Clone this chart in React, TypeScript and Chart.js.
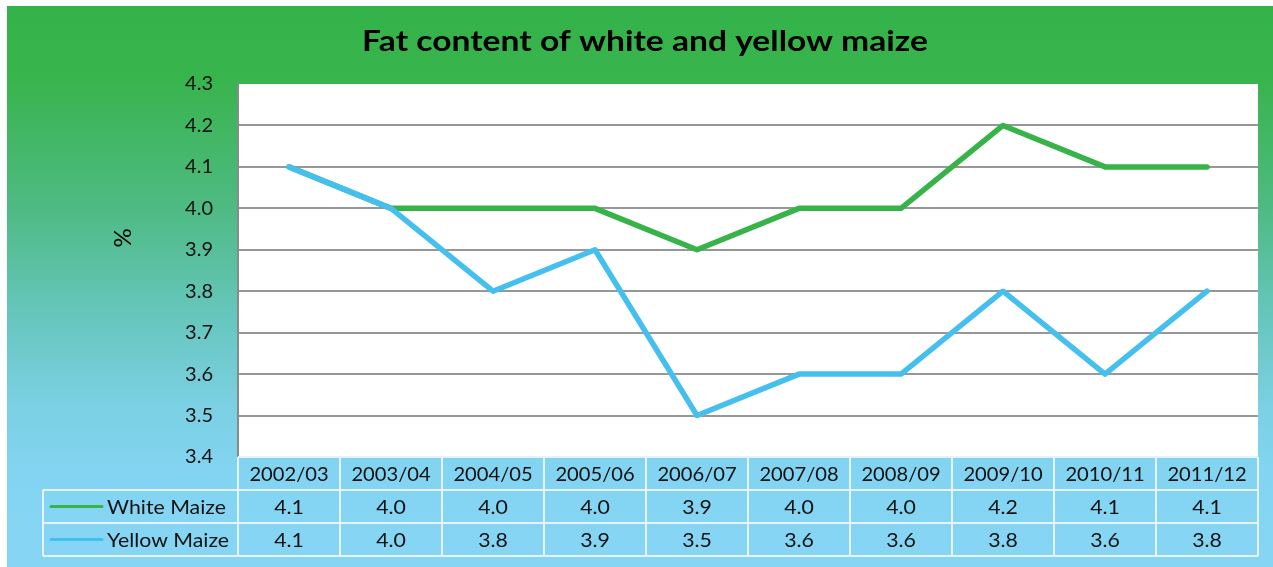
import React, { useEffect, useRef } from "react";
import { Chart, registerables } from "chart.js";

Chart.register(...registerables);

const categories = ["2002/03", "2003/04", "2004/05", "2005/06", "2006/07", "2007/08", "2008/09", "2009/10", "2010/11", "2011/12"];
const whiteMaize = [4.1, 4.0, 4.0, 4.0, 3.9, 4.0, 4.0, 4.2, 4.1, 4.1];
const yellowMaize = [4.1, 4.0, 3.8, 3.9, 3.5, 3.6, 3.6, 3.8, 3.6, 3.8];
const seriesNames = ["White Maize", "Yellow Maize"];
const seriesColors = ["#37B34A", "#45C0EE"];
const titleText = "Fat content of white and yellow maize";
const yAxisTitle = "%";

const W = 1266;
const H = 561;
const FONT = "Lato, 'DejaVu Sans', sans-serif";

function stretchText(ctx: any, text: string, x: number, y: number, align: string, sx: number) {
  ctx.save();
  ctx.translate(x, y);
  ctx.scale(sx, 1);
  ctx.textAlign = align;
  ctx.fillText(text, 0, 0);
  ctx.restore();
}

const backgroundPlugin = {
  id: "bgPlugin",
  beforeDraw(chart: any) {
    const { ctx, chartArea } = chart;
    ctx.save();
    const g = ctx.createLinearGradient(0, 0, 0, H);
    g.addColorStop(0, "#34B34A");
    g.addColorStop(70 / H, "#38B44C");
    g.addColorStop(200 / H, "#4EBA82");
    g.addColorStop(300 / H, "#64C5B8");
    g.addColorStop(400 / H, "#7BD0E3");
    g.addColorStop(470 / H, "#83D4F2");
    g.addColorStop(1, "#86D5F4");
    ctx.fillStyle = g;
    ctx.fillRect(0, 0, W, H);
    ctx.fillStyle = "#FFFFFF";
    ctx.fillRect(chartArea.left, chartArea.top, chartArea.right - chartArea.left, chartArea.bottom - chartArea.top);
    // title
    ctx.fillStyle = "#000000";
    ctx.font = `bold 28px ${FONT}`;
    ctx.textBaseline = "middle";
    stretchText(ctx, titleText, 638, 36, "center", 1.2);
    // y title
    ctx.save();
    ctx.translate(116, 232);
    ctx.rotate(-Math.PI / 2);
    ctx.font = `24px ${FONT}`;
    ctx.textAlign = "center";
    ctx.fillText(yAxisTitle, 0, 0);
    ctx.restore();
    ctx.restore();
  },
};

const tablePlugin = {
  id: "tablePlugin",
  afterDraw(chart: any) {
    const { ctx, chartArea } = chart;
    const xs = chart.scales.x;
    const colW = (chartArea.right - chartArea.left) / categories.length;
    const top = chartArea.bottom;
    const rowH = 33;
    const labelLeft = 36;
    ctx.save();
    ctx.strokeStyle = "#E4F4FA";
    ctx.lineWidth = 2;
    ctx.beginPath();
    ctx.moveTo(chartArea.left, top);
    ctx.lineTo(chartArea.right, top);
    for (let r = 1; r <= 3; r++) {
      ctx.moveTo(labelLeft, top + r * rowH);
      ctx.lineTo(chartArea.right, top + r * rowH);
    }
    for (let i = 0; i <= categories.length; i++) {
      const x = chartArea.left + i * colW;
      ctx.moveTo(x, top);
      ctx.lineTo(x, top + 3 * rowH);
    }
    ctx.moveTo(labelLeft, top + rowH);
    ctx.lineTo(labelLeft, top + 3 * rowH);
    ctx.stroke();

    ctx.fillStyle = "#111111";
    ctx.font = `19px ${FONT}`;
    ctx.textBaseline = "middle";
    categories.forEach((c, i) => {
      const x = xs.getPixelForValue(i);
      stretchText(ctx, c, x, top + rowH / 2 + 1, "center", 1.06);
      stretchText(ctx, whiteMaize[i].toFixed(1), x, top + rowH * 1.5 + 1, "center", 1.12);
      stretchText(ctx, yellowMaize[i].toFixed(1), x, top + rowH * 2.5 + 1, "center", 1.12);
    });
    seriesNames.forEach((n, r) => {
      const y = top + rowH * (1.5 + r);
      ctx.strokeStyle = seriesColors[r];
      ctx.lineWidth = 3;
      ctx.lineCap = "round";
      ctx.beginPath();
      ctx.moveTo(44, y);
      ctx.lineTo(95, y);
      ctx.stroke();
      ctx.fillStyle = "#111111";
      stretchText(ctx, n, 100, y + 1, "left", 1.12);
    });
    ctx.restore();
  },
};

export default function App() {
  const ref = useRef<HTMLCanvasElement>(null);
  useEffect(() => {
    if (!ref.current) return;
    const chart = new Chart(ref.current, {
      type: "line",
      data: {
        labels: categories,
        datasets: [
          {
            label: seriesNames[0],
            data: whiteMaize,
            borderColor: seriesColors[0],
            backgroundColor: seriesColors[0],
            borderWidth: 5.5,
            pointRadius: 0,
            tension: 0,
            borderCapStyle: "round",
            borderJoinStyle: "round",
            order: 2,
          },
          {
            label: seriesNames[1],
            data: yellowMaize,
            borderColor: seriesColors[1],
            backgroundColor: seriesColors[1],
            borderWidth: 5.5,
            pointRadius: 0,
            tension: 0,
            borderCapStyle: "round",
            borderJoinStyle: "round",
            order: 1,
          },
        ],
      },
      options: {
        responsive: false,
        animation: false,
        layout: { padding: { top: 78, bottom: 110, left: 0, right: 15 } },
        plugins: { legend: { display: false }, title: { display: false }, tooltip: { enabled: false } },
        scales: {
          x: { display: false, offset: true, grid: { display: false } },
          y: {
            min: 3.4,
            max: 4.3,
            afterFit(scale: any) {
              scale.width = 231;
            },
            border: { display: true, color: "#8A8A8A", width: 2 },
            grid: {
              drawTicks: false,
              lineWidth: 2,
              color: (c: any) => (c.tick && (c.tick.value > 4.29 || c.tick.value < 3.41) ? "rgba(0,0,0,0)" : "#979797"),
            },
            ticks: {
              stepSize: 0.1,
              padding: 25,
              color: "#111111",
              font: { family: FONT, size: 20 },
              callback: (v: any) => Number(v).toFixed(1),
            },
          },
        },
      },
      plugins: [backgroundPlugin, tablePlugin],
    });
    return () => chart.destroy();
  }, []);
  return (
    <div style={{ position: "absolute", left: 7, top: 6, width: W, height: H }}>
      <canvas ref={ref} width={W} height={H} style={{ display: "block", width: W, height: H }} />
    </div>
  );
}
